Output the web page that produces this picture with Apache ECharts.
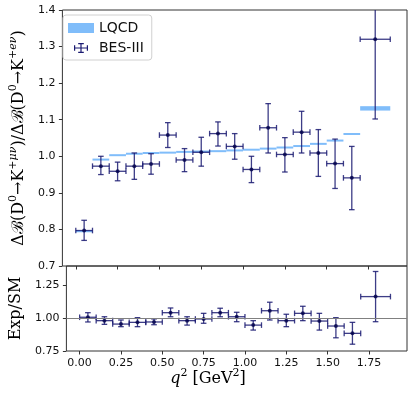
<!DOCTYPE html>
<html>
<head>
<meta charset="utf-8">
<script src="https://cdn.jsdelivr.net/npm/echarts@6/dist/echarts.min.js"></script>
<style>
  html, body { margin: 0; padding: 0; background: #fff; }
  #chart { width: 416px; height: 396px; }
</style>
</head>
<body>
<div id="chart"></div>
<script>
// q^2 bins (GeV^2)
var qCenter = [0.05, 0.15, 0.25, 0.35, 0.45, 0.55, 0.65, 0.75, 0.85, 0.95, 1.05, 1.15, 1.25, 1.35, 1.45, 1.55, 1.65, 1.79];
var qLow    = [0.00, 0.10, 0.20, 0.30, 0.40, 0.50, 0.60, 0.70, 0.80, 0.90, 1.00, 1.10, 1.20, 1.30, 1.40, 1.50, 1.60, 1.70];
var qHigh   = [0.10, 0.20, 0.30, 0.40, 0.50, 0.60, 0.70, 0.80, 0.90, 1.00, 1.10, 1.20, 1.30, 1.40, 1.50, 1.60, 1.70, 1.88];

// BES-III ratio mu/e with error range
var besRatio = [0.797, 0.973, 0.959, 0.973, 0.979, 1.058, 0.990, 1.011, 1.062, 1.027, 0.964, 1.078, 1.005, 1.066, 1.009, 0.980, 0.941, 1.320];
var besLow   = [0.770, 0.950, 0.933, 0.937, 0.951, 1.024, 0.958, 0.973, 1.028, 0.992, 0.928, 1.009, 0.957, 1.009, 0.945, 0.912, 0.854, 1.102];
var besHigh  = [0.825, 1.000, 0.984, 1.009, 1.007, 1.092, 1.021, 1.052, 1.094, 1.062, 1.000, 1.144, 1.051, 1.123, 1.073, 1.047, 1.027, 1.540];

// LQCD prediction bands
var lqcdLow  = [0.793, 0.989, 1.001, 1.005, 1.007, 1.008, 1.010, 1.011, 1.012, 1.014, 1.016, 1.019, 1.022, 1.026, 1.032, 1.041, 1.059, 1.125];
var lqcdHigh = [0.797, 0.993, 1.005, 1.009, 1.011, 1.012, 1.014, 1.015, 1.016, 1.018, 1.020, 1.023, 1.026, 1.030, 1.036, 1.045, 1.063, 1.137];

// Exp / SM
var expSM     = [1.008, 0.982, 0.956, 0.969, 0.972, 1.043, 0.982, 0.995, 1.043, 1.012, 0.948, 1.058, 0.982, 1.038, 0.979, 0.941, 0.885, 1.166];
var expSMLow  = [0.972, 0.954, 0.936, 0.936, 0.951, 1.012, 0.948, 0.962, 1.012, 0.974, 0.910, 0.987, 0.936, 0.982, 0.910, 0.851, 0.802, 0.974];
var expSMHigh = [1.043, 1.012, 0.987, 1.005, 0.995, 1.079, 1.012, 1.038, 1.077, 1.046, 0.982, 1.123, 1.031, 1.092, 1.038, 1.005, 0.969, 1.358];

var xTicks = [0, 0.25, 0.5, 0.75, 1.0, 1.25, 1.5, 1.75];

var ERR_COLOR = '#1b1b72';
var DOT_COLOR = '#00004a';
var LQCD_COLOR = '#80bdfa';

var chart = echarts.init(document.getElementById('chart'));

function errData(y, lo, hi) {
    return qCenter.map(function (q, i) {
        return [q, y[i], qLow[i], qHigh[i], lo[i], hi[i]];
    });
}
function pointData(y) {
    return qCenter.map(function (q, i) { return [q, y[i]]; });
}

// error bars with caps
function renderErr(params, api) {
    var x = api.value(0), y = api.value(1);
    var l = api.coord([api.value(2), y]);
    var r = api.coord([api.value(3), y]);
    var b = api.coord([x, api.value(4)]);
    var t = api.coord([x, api.value(5)]);
    var cap = 2.8;
    var st = { stroke: ERR_COLOR, lineWidth: 1.3, opacity: 0.85 };
    function ln(x1, y1, x2, y2) {
        return { type: 'line', shape: { x1: x1, y1: y1, x2: x2, y2: y2 }, style: st };
    }
    return {
        type: 'group',
        children: [
            ln(l[0], l[1], r[0], r[1]),
            ln(b[0], b[1], t[0], t[1]),
            ln(t[0] - cap, t[1], t[0] + cap, t[1]),
            ln(b[0] - cap, b[1], b[0] + cap, b[1]),
            ln(l[0], l[1] - cap, l[0], l[1] + cap),
            ln(r[0], r[1] - cap, r[0], r[1] + cap)
        ]
    };
}

function renderBand(params, api) {
    var p0 = api.coord([api.value(0), api.value(3)]);
    var p1 = api.coord([api.value(1), api.value(2)]);
    var h = Math.max(p1[1] - p0[1], 2);
    var cy = (p0[1] + p1[1]) / 2;
    return {
        type: 'rect',
        shape: { x: p0[0], y: cy - h / 2, width: p1[0] - p0[0], height: h },
        style: { fill: LQCD_COLOR }
    };
}

var tickFont = { fontFamily: 'DejaVu Sans', fontSize: 11, color: '#111' };

function xAxisCfg(gridIndex, showLabels) {
    return {
        type: 'value', gridIndex: gridIndex, min: -0.08, max: 1.98,
        splitLine: { show: false },
        axisLine: { show: false, onZero: false },
        axisTick: { show: true, inside: false, length: 3.5, lineStyle: { color: '#333' }, customValues: xTicks },
        axisLabel: Object.assign({ show: showLabels, margin: 7, customValues: xTicks,
            formatter: function (v) { return v.toFixed(2); } }, tickFont)
    };
}

var option = {
    backgroundColor: '#FFFFFF',
    animation: false,
    grid: [
        { left: 57, top: 10, width: 350, height: 256, show: true, borderColor: '#333', borderWidth: 1, backgroundColor: 'transparent' },
        { left: 57, top: 266, width: 350, height: 85, show: true, borderColor: '#333', borderWidth: 1, backgroundColor: 'transparent' }
    ],
    legend: {
        left: 63, top: 15,
        orient: 'vertical',
        padding: [6, 8, 5, 5],
        itemGap: 6,
        itemWidth: 26, itemHeight: 10,
        borderColor: '#d0d0d0', borderWidth: 1, borderRadius: 3,
        backgroundColor: 'rgba(255,255,255,0.8)',
        textStyle: { fontFamily: 'DejaVu Sans', fontSize: 14, color: '#111' },
        data: [
            { name: 'LQCD', icon: 'rect', itemStyle: { color: LQCD_COLOR } },
            { name: 'BES-III', itemStyle: { color: ERR_COLOR },
              icon: 'path://M6,4.4h14v1.2h-14z M12.4,0h1.2v10h-1.2z M6,2.2h1.2v5.6h-1.2z M18.8,2.2h1.2v5.6h-1.2z M10.2,0h5.6v1.2h-5.6z M10.2,8.8h5.6v1.2h-5.6z' }
        ]
    },
    xAxis: [xAxisCfg(0, false), xAxisCfg(1, true)],
    yAxis: [
        {
            type: 'value', gridIndex: 0, min: 0.7, max: 1.4, interval: 0.1,
            splitLine: { show: false },
            axisLine: { show: false, onZero: false },
            axisTick: { show: true, length: 3.5, lineStyle: { color: '#333' } },
            axisLabel: Object.assign({ margin: 7,
                formatter: function (v) { return v.toFixed(1); } }, tickFont),
            name: '{n|Δℬ(D}{s|0}{n|→K}{s|+}{m|μν}{n|)/Δℬ(D}{s|0}{n|→K}{s|+}{m|eν}{n|)}',
            nameLocation: 'middle', nameGap: 27, nameRotate: 90,
            nameTextStyle: {
                rich: {
                    n: { fontFamily: 'DejaVu Serif', fontSize: 16, color: '#000', verticalAlign: 'bottom', lineHeight: 20 },
                    s: { fontFamily: 'DejaVu Serif', fontSize: 11, color: '#000', verticalAlign: 'bottom', lineHeight: 20, padding: [0, 0, 8, 0] },
                    m: { fontFamily: 'DejaVu Serif', fontStyle: 'italic', fontSize: 11, color: '#000', verticalAlign: 'bottom', lineHeight: 20, padding: [0, 0, 8, 0] }
                }
            }
        },
        {
            type: 'value', gridIndex: 1, min: 0.75, max: 1.40, interval: 0.25,
            splitLine: { show: false },
            axisLine: { show: false, onZero: false },
            axisTick: { show: true, length: 3.5, lineStyle: { color: '#333' } },
            axisLabel: Object.assign({ margin: 7, showMaxLabel: false,
                formatter: function (v) { return v > 1.3 ? '' : v.toFixed(2); } }, tickFont),
            name: 'Exp/SM', nameLocation: 'middle', nameGap: 38, nameRotate: 90,
            nameTextStyle: { fontFamily: 'DejaVu Serif', fontSize: 16, color: '#000' }
        }
    ],
    graphic: [{
        type: 'text', left: 'center', top: 368,
        style: {
            text: '{i|q}{s|2}{n| [GeV}{s|2}{n|]}',
            rich: {
                i: { fontFamily: 'DejaVu Serif', fontStyle: 'italic', fontSize: 16, fill: '#000', verticalAlign: 'bottom', lineHeight: 20 },
                n: { fontFamily: 'DejaVu Serif', fontSize: 16, fill: '#000', verticalAlign: 'bottom', lineHeight: 20 },
                s: { fontFamily: 'DejaVu Serif', fontSize: 11, fill: '#000', verticalAlign: 'bottom', lineHeight: 20, padding: [0, 0, 8, 0] }
            }
        }
    }],
    series: [
        {
            name: 'LQCD', type: 'custom', xAxisIndex: 0, yAxisIndex: 0,
            renderItem: renderBand, clip: true,
            itemStyle: { color: LQCD_COLOR },
            encode: { x: [0, 1], y: [2, 3] },
            data: qLow.map(function (q, i) { return [q, qHigh[i], lqcdLow[i], lqcdHigh[i]]; }),
            z: 1
        },
        {
            name: 'BES-III', type: 'custom', xAxisIndex: 0, yAxisIndex: 0,
            renderItem: renderErr, clip: true,
            itemStyle: { color: ERR_COLOR },
            encode: { x: [0, 2, 3], y: [1, 4, 5] },
            data: errData(besRatio, besLow, besHigh),
            z: 2
        },
        {
            name: 'BES-III pts', type: 'scatter', xAxisIndex: 0, yAxisIndex: 0,
            symbolSize: 4, itemStyle: { color: DOT_COLOR },
            data: pointData(besRatio), z: 3
        },
        {
            name: 'ref', type: 'line', xAxisIndex: 1, yAxisIndex: 1,
            data: [], symbol: 'none',
            markLine: {
                silent: true, symbol: 'none', label: { show: false },
                lineStyle: { color: '#808080', width: 1, type: 'solid' },
                data: [{ yAxis: 1.0 }]
            }
        },
        {
            name: 'ratio err', type: 'custom', xAxisIndex: 1, yAxisIndex: 1,
            renderItem: renderErr, clip: true,
            itemStyle: { color: ERR_COLOR },
            encode: { x: [0, 2, 3], y: [1, 4, 5] },
            data: errData(expSM, expSMLow, expSMHigh),
            z: 2
        },
        {
            name: 'ratio pts', type: 'scatter', xAxisIndex: 1, yAxisIndex: 1,
            symbolSize: 4, itemStyle: { color: DOT_COLOR },
            data: pointData(expSM), z: 3
        }
    ]
};

chart.setOption(option);
window.onresize = function () {
    chart.resize();
};
</script>
</body>
</html>
